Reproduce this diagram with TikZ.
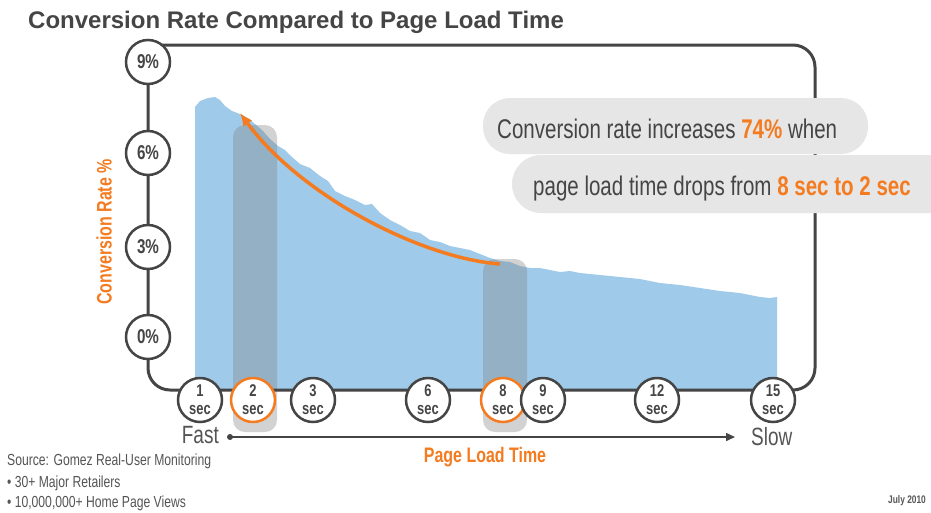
\documentclass[tikz,border=0pt]{standalone}
\usepackage{fontspec}
\setmainfont{Liberation Sans}
\newfontfamily\cnd[FakeStretch=0.76]{Liberation Sans}
\usetikzlibrary{arrows.meta}
\definecolor{orng}{HTML}{F47B20}
\definecolor{skyb}{HTML}{9FCAE9}
\definecolor{dkg}{HTML}{454545}
\definecolor{txtg}{HTML}{555555}
\definecolor{pillg}{HTML}{E6E6E6}
\tikzset{
  frameline/.style={dkg, line width=3pt, line join=round},
  ycirc/.style={circle, draw=dkg, fill=white, line width=2.5pt, minimum size=44pt, inner sep=0pt,
     text=dkg, font=\cnd\bfseries\fontsize{20}{20}\selectfont},
  xcirc/.style={circle, draw=dkg, fill=white, line width=2.5pt, minimum size=44pt, inner sep=0pt,
     text=dkg, align=center, font=\cnd\bfseries\fontsize{17}{18}\selectfont},
  ocirc/.style={xcirc, draw=orng},
  band/.style={fill=gray, opacity=0.35, rounded corners=12pt},
  pill/.style={fill=pillg},
  calltext/.style={text=dkg, inner sep=0pt, font=\cnd\fontsize{27}{30}\selectfont},
  srctext/.style={text=txtg, inner sep=0pt, font=\cnd\fontsize{16}{18}\selectfont},
}
\begin{document}
\begin{tikzpicture}[x=1pt, y=-1pt]
\useasboundingbox (0,0) rectangle (931,512);
\fill[white] (0,0) rectangle (931,512);

% blue area
\fill[skyb] (195,107) -- (200,101) -- (208,98) -- (215,97) -- (220,100) -- (225,106) -- (232,111)
 -- (240,114) -- (248,118) -- (255,124) -- (262,130) -- (270,139) -- (278,146) -- (285,150)
 -- (292,157) -- (300,164) -- (310,168) -- (320,176) -- (328,181) -- (335,191) -- (345,196)
 -- (355,200) -- (365,205) -- (372,204) -- (380,213) -- (390,220) -- (400,225) -- (410,231)
 -- (420,233) -- (430,240) -- (440,242) -- (450,246) -- (460,248) -- (470,250) -- (480,254)
 -- (490,258) -- (500,261) -- (510,262) -- (520,266) -- (530,268) -- (540,268) -- (550,270)
 -- (560,272) -- (570,271) -- (580,273) -- (590,274) -- (600,275) -- (620,277) -- (640,279)
 -- (660,283) -- (680,285) -- (700,288) -- (720,291) -- (740,293) -- (760,297) -- (770,298)
 -- (777,297) -- (777,390) [rounded corners=12pt] -- (195,390) [sharp corners] -- cycle;

% highlight bands
\fill[band] (233,125) rectangle (277,432);
\fill[band] (483,259) rectangle (527,432);

% frame
\coordinate (bl) at (148,390);
\coordinate (br) at (815,390);
\coordinate (tr) at (815,45);
\coordinate (tl) at (160,45);
\coordinate (p9c) at (148,62);
\draw[frameline, rounded corners=22pt] (p9c) -- (bl) -- (br) -- (tr) -- (tl);

% orange arrow
\coordinate (a8) at (500,264);
\coordinate (a2) at (240,113);
\draw[orng, line width=3.5pt, -{Latex[length=13pt,width=11pt]}] (a8) .. controls (420,258) and (300,195) .. (a2);

% y axis circles
\node[ycirc] (p9) at (148,62) {9\%};
\node[ycirc] (p6) at (148,153) {6\%};
\node[ycirc] (p3) at (148,247) {3\%};
\node[ycirc] (p0) at (148,337) {0\%};

% x axis circles
\node[xcirc] (s1) at (200,400) {1\\sec};
\node[ocirc] (s2) at (253,400) {2\\sec};
\node[xcirc] (s3) at (313,400) {3\\sec};
\node[xcirc] (s6) at (428,400) {6\\sec};
\node[ocirc] (s8) at (503,400) {8\\sec};
\node[xcirc] (s9) at (543,400) {9\\sec};
\node[xcirc] (s12) at (657,400) {12\\sec};
\node[xcirc] (s15) at (773,400) {15\\sec};

% callout pills
\fill[pill, rounded corners=27pt] (483,98) rectangle (868,154);
\fill[pill, rounded corners=29pt] (512,155) rectangle (960,213);
\node[calltext, anchor=base west] (c1) at (497,138) {Conversion rate increases {\bfseries\color{orng}74\%} when};
\node[calltext, anchor=base west] (c2) at (533,195) {page load time drops from {\bfseries\color{orng}8 sec to 2 sec}};

% title
\node[anchor=base west, inner sep=0pt, text=dkg, font=\bfseries\fontsize{24}{26}\selectfont] (title) at (28,28)
  {Conversion Rate Compared to Page Load Time};

% y label
\node[rotate=90, text=orng, inner sep=0pt, font=\cnd\bfseries\fontsize{21}{22}\selectfont] (ylab) at (104,232)
  {Conversion Rate \%};

% x axis arrow
\coordinate (fastdot) at (230,437);
\coordinate (slowend) at (735,437);
\fill[dkg] (fastdot) circle (3pt);
\draw[dkg, line width=1.5pt, -{Triangle[length=9pt,width=8pt]}] (fastdot) -- (slowend);
\node[anchor=east, inner sep=0pt, text=txtg, font=\cnd\fontsize{25}{26}\selectfont] (fast) at (219,435) {Fast};
\node[anchor=west, inner sep=0pt, text=txtg, font=\cnd\fontsize{25}{26}\selectfont] (slow) at (751,437) {Slow};
\node[inner sep=0pt, text=orng, font=\cnd\bfseries\fontsize{21}{22}\selectfont] (xlab) at (485,457) {Page Load Time};

% source
\node[srctext, anchor=base west] (src) at (7,465) {Source: Gomez Real-User Monitoring};
\node[srctext, anchor=base west] (src2) at (7,487) {• 30+ Major Retailers};
\node[srctext, anchor=base west] (src3) at (7,507) {• 10,000,000+ Home Page Views};
\node[anchor=base west, inner sep=0pt, text=txtg, font=\cnd\bfseries\fontsize{11}{12}\selectfont] (date) at (888,503) {July 2010};
\end{tikzpicture}
\end{document}
